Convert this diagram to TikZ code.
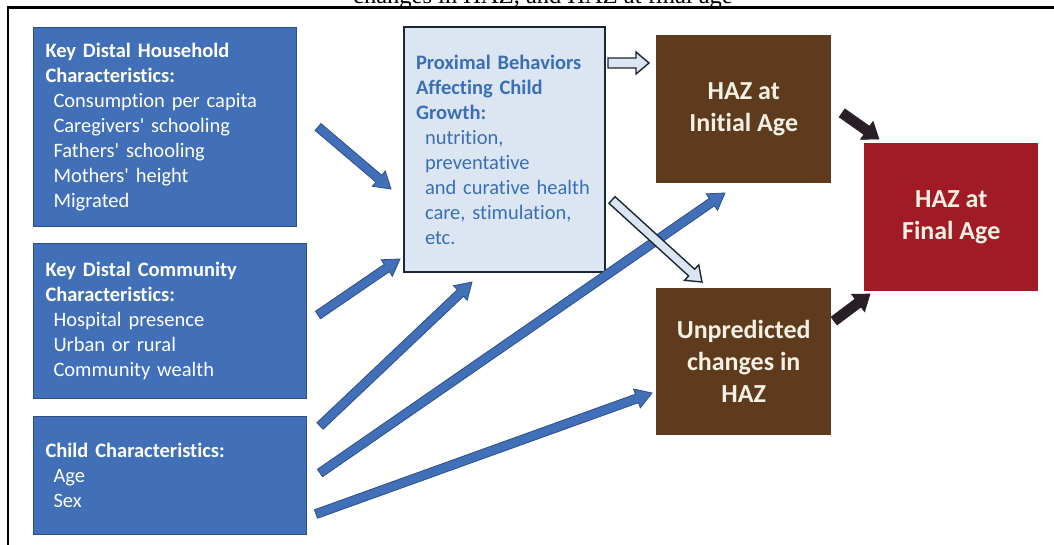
\documentclass[tikz,border=0pt]{standalone}
\usepackage{fontspec}
\setmainfont{Carlito}[Ligatures=NoCommon]
\newfontfamily\capfont{Liberation Serif}
\usetikzlibrary{calc}

\definecolor{distalfill}{HTML}{4170B8}
\definecolor{distaledge}{HTML}{2C4F88}
\definecolor{proxfill}{HTML}{DCE6F2}
\definecolor{proxedge}{HTML}{1B2733}
\definecolor{proxtext}{HTML}{3A6EB5}
\definecolor{hazbrown}{HTML}{5E3B1D}
\definecolor{hazred}{HTML}{A11B27}
\definecolor{hazdark}{HTML}{2B1F27}
\definecolor{lighttext}{HTML}{F4F0E4}

% block arrow: style, tail, tip, half shaft width, half head width, head length
\newcommand\blockarrow[6]{%
  \coordinate (baHead) at ($(#3)!#6!(#2)$);
  \filldraw[#1] ($(#2)!#4!90:(#3)$) -- ($(baHead)!#4!90:(#3)$)
    -- ($(baHead)!#5!90:(#3)$) -- (#3) -- ($(baHead)!#5!-90:(#3)$)
    -- ($(baHead)!#4!-90:(#3)$) -- ($(#2)!#4!-90:(#3)$) -- cycle;}
\newcommand\apos{\textquotesingle}

\tikzset{
  distal/.style={draw=distaledge, line width=1pt, fill=distalfill,
    text=white, align=left, anchor=north west, inner xsep=12pt,
    font=\fontsize{20.5}{25}\selectfont},
  proximal/.style={draw=proxedge, line width=2pt, fill=proxfill,
    text=proxtext, align=left, anchor=north west, inner xsep=12pt,
    font=\fontsize{20.5}{25}\selectfont},
  hazbox/.style={fill=hazbrown, text=lighttext, align=center,
    anchor=north west, font=\bfseries\fontsize{26}{32}\selectfont},
  finalbox/.style={hazbox, fill=hazred},
  bluearrow/.style={fill=distalfill, draw=distaledge, line width=0.8pt, line join=miter},
  lightarrow/.style={fill=proxfill, draw=proxedge, line width=1.4pt, line join=miter},
  darkarrow/.style={fill=hazdark, draw=hazdark, line width=0.6pt, line join=miter},
}

\begin{document}
\begin{tikzpicture}[x=1pt, y=-1pt]
  \useasboundingbox (0,0) rectangle (1054,545);
  \clip (0,0) rectangle (1054,545);
  \fill[white] (0,0) rectangle (1054,545);

  % caption line, mostly above the page edge
  \node[font=\capfont\fontsize{24.5}{28}\selectfont, anchor=base, inner sep=0pt]
    (caption) at (543,3.5) {changes in HAZ, and HAZ at final age};
  % frame
  \draw[line width=2.5pt] (8,546) -- (8,7.5) -- (1055,7.5);

  % distal characteristics
  \node[distal, minimum width=263pt, minimum height=199pt, text width=239pt]
    (household) at (33,27) {\textbf{Key Distal Household}\\
      \textbf{Characteristics:}\\
      \hspace*{8pt}Consumption per capita\\
      \hspace*{8pt}Caregivers\apos{} schooling\\
      \hspace*{8pt}Fathers\apos{} schooling\\
      \hspace*{8pt}Mothers\apos{} height\\
      \hspace*{8pt}Migrated};
  \node[distal, minimum width=273pt, minimum height=155pt, text width=249pt]
    (community) at (33,243) {\textbf{Key Distal Community}\\
      \textbf{Characteristics:}\\
      \hspace*{8pt}Hospital presence\\
      \hspace*{8pt}Urban or rural\\
      \hspace*{8pt}Community wealth};
  \node[distal, minimum width=273pt, minimum height=118pt, text width=249pt]
    (child) at (33,416) {\textbf{Child Characteristics:}\\
      \hspace*{8pt}Age\\
      \hspace*{8pt}Sex};

  % proximal behaviours
  \node[proximal, minimum width=201pt, minimum height=245pt, text width=177pt]
    (proximal) at (403,26) {\textbf{Proximal Behaviors}\\
      \textbf{Affecting Child}\\
      \textbf{Growth:}\\
      \hspace*{9pt}nutrition,\\
      \hspace*{9pt}preventative\\
      \hspace*{9pt}and curative health\\
      \hspace*{9pt}care, stimulation,\\
      \hspace*{9pt}etc.};

  % outcomes
  \node[hazbox, minimum width=175pt, minimum height=148pt]
    (initial) at (656,35) {HAZ at\\Initial Age};
  \node[hazbox, minimum width=175pt, minimum height=147pt]
    (unpredicted) at (656,288) {Unpredicted\\changes in\\HAZ};
  \node[finalbox, minimum width=174pt, minimum height=148pt]
    (final) at (864,143) {HAZ at\\Final Age};

  % arrow end points
  \coordinate (hhTail) at (318,127);   \coordinate (hhTip) at (391,189);
  \coordinate (cmTail) at (318,315);   \coordinate (cmTip) at (400,259);
  \coordinate (chTail) at (320,426);   \coordinate (chTip) at (472,282);
  \coordinate (ciTail) at (320,473);   \coordinate (ciTip) at (725,193);
  \coordinate (cuTail) at (316,514);   \coordinate (cuTip) at (652,393);
  \coordinate (piTail) at (608,63);    \coordinate (piTip) at (649,63);
  \coordinate (puTail) at (612,200);   \coordinate (puTip) at (702,282);
  \coordinate (ifTail) at (842,113);   \coordinate (ifTip) at (879,139);
  \coordinate (ufTail) at (834,321);   \coordinate (ufTip) at (870,294);

  % distal -> proximal / outcomes
  \blockarrow{bluearrow}{hhTail}{hhTip}{4.5pt}{10pt}{16pt}
  \blockarrow{bluearrow}{cmTail}{cmTip}{4.5pt}{10pt}{16pt}
  \blockarrow{bluearrow}{chTail}{chTip}{4.5pt}{10pt}{16pt}
  \blockarrow{bluearrow}{ciTail}{ciTip}{4.5pt}{10pt}{16pt}
  \blockarrow{bluearrow}{cuTail}{cuTip}{4.5pt}{10pt}{16pt}

  % proximal -> outcomes
  \blockarrow{lightarrow}{piTail}{piTip}{5pt}{11pt}{13pt}
  \blockarrow{lightarrow}{puTail}{puTip}{4.5pt}{10.5pt}{14pt}

  % outcomes -> final
  \blockarrow{darkarrow}{ifTail}{ifTip}{5pt}{11pt}{15pt}
  \blockarrow{darkarrow}{ufTail}{ufTip}{5pt}{11pt}{15pt}
\end{tikzpicture}
\end{document}
